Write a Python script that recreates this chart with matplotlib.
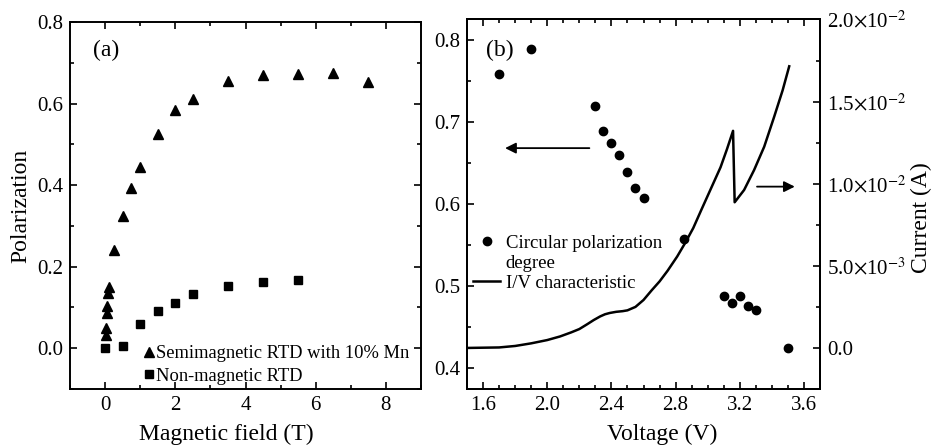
"""
Two-panel figure: (a) polarization vs magnetic field for two RTDs,
(b) circular polarization degree and I/V characteristic vs voltage.
"""

import matplotlib

matplotlib.use("Agg")
import matplotlib.pyplot as plt  # noqa: E402
from matplotlib.lines import Line2D  # noqa: E402
from matplotlib.ticker import MultipleLocator, FixedLocator, FixedFormatter  # noqa: E402

plt.rcParams["font.family"] = ["Liberation Serif", "DejaVu Serif"]
plt.rcParams["mathtext.fontset"] = "stix"

# panel (a)
B_semi = [0.02, 0.03, 0.05, 0.06, 0.08, 0.10, 0.25, 0.5, 0.75, 1.0, 1.5, 2.0, 2.5,
          3.5, 4.5, 5.5, 6.5, 7.5]
P_semi = [0.033, 0.049, 0.086, 0.104, 0.135, 0.150, 0.240, 0.324, 0.394, 0.445,
          0.525, 0.583, 0.611, 0.655, 0.670, 0.672, 0.676, 0.654]
B_nonmag = [0.0, 0.5, 1.0, 1.5, 2.0, 2.5, 3.5, 4.5, 5.5]
P_nonmag = [0.0, 0.0065, 0.060, 0.091, 0.110, 0.132, 0.153, 0.163, 0.167]

# panel (b)
V_pol = [1.70, 1.90, 2.30, 2.35, 2.40, 2.45, 2.50, 2.55, 2.60, 2.85, 3.10, 3.15,
         3.20, 3.25, 3.30, 3.50]
circ_pol = [0.759, 0.789, 0.720, 0.689, 0.674, 0.659, 0.639, 0.619, 0.607, 0.557,
            0.488, 0.479, 0.487, 0.475, 0.471, 0.424]
V_iv = [1.50, 1.70, 1.80, 1.90, 2.00, 2.08, 2.15, 2.20, 2.25, 2.29, 2.33, 2.36,
        2.39, 2.43, 2.47, 2.50, 2.55, 2.60, 2.65, 2.70, 2.75, 2.81, 2.86, 2.91,
        2.96, 3.02, 3.08, 3.12, 3.158, 3.168, 3.227, 3.289, 3.352, 3.414, 3.467,
        3.508]
I_iv = [0.0, 0.00003, 0.00012, 0.00028, 0.00048, 0.0007, 0.00095, 0.00115,
        0.00145, 0.0017, 0.00192, 0.00205, 0.00213, 0.0022, 0.00224, 0.00229,
        0.0025, 0.00292, 0.0035, 0.00405, 0.0047, 0.00557, 0.0064, 0.0073,
        0.0084, 0.0097, 0.0110, 0.0121, 0.01322, 0.00887, 0.00962, 0.01083,
        0.01225, 0.01407, 0.01569, 0.01715]
cur_ticks = [0.0, 5e-3, 1e-2, 1.5e-2, 2e-2]
cur_labels = ["0.0", r"5.0$\times$10$^{-3}$", r"1.0$\times$10$^{-2}$",
              r"1.5$\times$10$^{-2}$", r"2.0$\times$10$^{-2}$"]

TICK = 15
LABEL = 17


def style(ax, **kw):
    ax.tick_params(which="both", direction="in", labelsize=TICK, width=1.2, pad=5, **kw)
    ax.tick_params(which="major", length=5)
    ax.tick_params(which="minor", length=3)
    for s in ax.spines.values():
        s.set_linewidth(1.4)


fig = plt.figure(figsize=(9.31, 4.46), dpi=100)

# (a)
ax1 = fig.add_axes([0.0752, 0.1278, 0.377, 0.8229])
ax1.plot(B_semi, P_semi, "^", color="k", ms=7, label="Semimagnetic RTD with 10% Mn")
ax1.plot(B_nonmag, P_nonmag, "s", color="k", ms=5.5, label="Non-magnetic RTD")
ax1.set_xlim(-1, 9)
ax1.set_ylim(-0.1, 0.8)
ax1.xaxis.set_major_locator(MultipleLocator(2))
ax1.xaxis.set_minor_locator(MultipleLocator(1))
ax1.yaxis.set_major_locator(MultipleLocator(0.2))
ax1.yaxis.set_minor_locator(MultipleLocator(0.1))
style(ax1, top=True, right=True)
ax1.set_xlabel("Magnetic field (T)", fontsize=LABEL, labelpad=0)
ax1.set_ylabel("Polarization", fontsize=LABEL, labelpad=4)
ax1.xaxis.set_label_coords(0.444, -0.095)
ax1.text(0.065, 0.922, "(a)", transform=ax1.transAxes, fontsize=LABEL, va="center")
ax1.legend(loc="upper left", bbox_to_anchor=(0.212, 0.119), frameon=False,
           fontsize=13.3, handlelength=0.5, handletextpad=0.1, labelspacing=0.3,
           borderpad=0, borderaxespad=0)

# (b)
ax2 = fig.add_axes([0.5016, 0.1278, 0.3792, 0.8285])
ax2.plot(V_pol, circ_pol, "o", color="k", ms=6)
ax2.set_xlim(1.5, 3.7)
ax2.set_ylim(0.374, 0.825)
ax2.xaxis.set_major_locator(MultipleLocator(0.4))
ax2.xaxis.set_minor_locator(MultipleLocator(0.1))
ax2.yaxis.set_major_locator(MultipleLocator(0.1))
ax2.yaxis.set_minor_locator(MultipleLocator(0.05))
style(ax2, top=True)
ax2.set_xlabel("Voltage (V)", fontsize=LABEL)
ax2.xaxis.set_label_coords(0.552, -0.095)
ax2.text(0.055, 0.917, "(b)", transform=ax2.transAxes, fontsize=LABEL, va="center")

ax3 = ax2.twinx()
ax3.plot(V_iv, I_iv, "-", color="k", lw=1.8)
ax3.set_ylim(-2.5e-3, 2.0e-2)
ax3.yaxis.set_major_locator(FixedLocator(cur_ticks))
ax3.yaxis.set_major_formatter(FixedFormatter(cur_labels))
ax3.yaxis.set_minor_locator(MultipleLocator(2.5e-3))
style(ax3)
ax3.set_ylabel("Current (A)", fontsize=LABEL)
ax3.yaxis.set_label_coords(1.258, 0.465)

ax2.annotate("", xy=(1.72, 0.668), xytext=(2.28, 0.668),
             arrowprops=dict(arrowstyle="-|>", color="k", lw=1.3, mutation_scale=16))
ax2.annotate("", xy=(3.56, 0.621), xytext=(3.29, 0.621),
             arrowprops=dict(arrowstyle="-|>", color="k", lw=1.3, mutation_scale=16))

handles = [Line2D([], [], ls="none", marker="o", color="k", ms=6),
           Line2D([], [], ls="none", marker="none"),
           Line2D([], [], ls="-", color="k", lw=1.8)]
labels = ["Circular polarization", "degree", "I/V characteristic"]
ax3.legend(handles, labels, loc="upper left", bbox_to_anchor=(0.017, 0.417),
           frameon=False, fontsize=13.5, handlelength=1.45, handletextpad=0.3,
           labelspacing=0.15, borderpad=0, borderaxespad=0)

fig.savefig("out.png", dpi=100)
